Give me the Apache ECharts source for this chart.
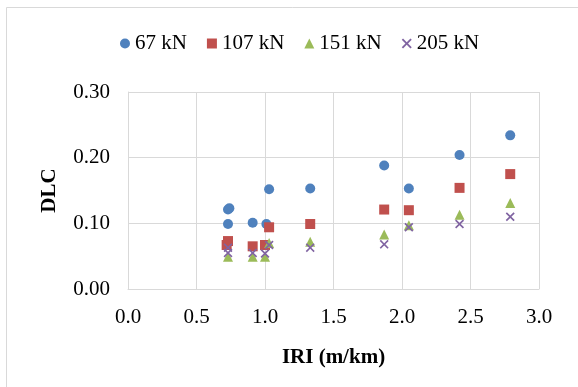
<!DOCTYPE html>
<html>
<head>
<meta charset="utf-8">
<script src="https://cdn.jsdelivr.net/npm/echarts@6/dist/echarts.min.js"></script>
<style>html,body{margin:0;padding:0;background:#fff}#c{width:578px;height:387px}</style>
</head>
<body>
<div id="c"></div>
<script>
var seriesNames = ['67 kN', '107 kN', '151 kN', '205 kN'];
var xTicks = ['0.0','0.5','1.0','1.5','2.0','2.5','3.0'];
var yTicks = ['0.00','0.10','0.20','0.30'];
var iri67 = [0.73, 0.74, 0.73, 0.91, 1.01, 1.03, 1.33, 1.87, 2.05, 2.42, 2.79];
var dlc67 = [0.121, 0.123, 0.099, 0.101, 0.099, 0.152, 0.153, 0.188, 0.153, 0.204, 0.234];
var iri107 = [0.73, 0.72, 0.91, 1.00, 1.03, 1.33, 1.87, 2.05, 2.42, 2.79];
var dlc107 = [0.073, 0.067, 0.065, 0.067, 0.094, 0.099, 0.121, 0.120, 0.154, 0.175];
var iri151 = [0.73, 0.91, 1.00, 1.03, 1.33, 1.87, 2.05, 2.42, 2.79];
var dlc151 = [0.049, 0.049, 0.049, 0.070, 0.072, 0.083, 0.097, 0.113, 0.131];
var iri205 = [0.73, 0.73, 0.91, 1.00, 1.03, 1.33, 1.87, 2.05, 2.42, 2.79];
var dlc205 = [0.063, 0.055, 0.055, 0.054, 0.067, 0.063, 0.068, 0.094, 0.099, 0.110];

function pairs(xs, ys){ return xs.map(function(x,i){ return [x, ys[i]]; }); }
var FONT = '"Liberation Serif", "Times New Roman", serif';
var FS = 21;
var colors = ['#4F81BD', '#C0504D', '#9BBB59', '#8064A2'];
var xPath = 'path://M0,1.3 L1.3,0 L5,3.7 L8.7,0 L10,1.3 L6.3,5 L10,8.7 L8.7,10 L5,6.3 L1.3,10 L0,8.7 L3.7,5 Z';
var symbols = ['circle', 'rect', 'triangle', xPath];
var sizes = [10, 10, 10, 9];
var data = [pairs(iri67, dlc67), pairs(iri107, dlc107), pairs(iri151, dlc151), pairs(iri205, dlc205)];

var chart = echarts.init(document.getElementById('c'), null, {renderer: 'canvas'});
var gridColor = '#D9D9D9';
chart.setOption({
  animation: false,
  backgroundColor: '#fff',
  color: colors,
  graphic: [{
    type: 'rect', shape: {x: 6.5, y: 7.5, width: 620, height: 420},
    style: {fill: 'none', stroke: gridColor, lineWidth: 1}, silent: true, z: -1
  }],
  legend: {
    top: 28, left: 115,
    itemWidth: 10, itemHeight: 10, itemGap: 20, itemTextGap: 6,
    textStyle: {fontFamily: FONT, fontSize: FS, color: '#000'},
    data: seriesNames.map(function(n, i){ return {name: n, icon: symbols[i]}; })
  },
  grid: {left: 128, right: 39, top: 92, bottom: 98},
  xAxis: {
    type: 'value', min: 0, max: 3, interval: 0.5,
    name: 'IRI (m/km)', nameLocation: 'middle', nameGap: 58,
    nameTextStyle: {fontFamily: FONT, fontSize: FS, fontWeight: 'bold', color: '#000'},
    axisLine: {show: true, lineStyle: {color: gridColor, width: 1}},
    axisTick: {show: false},
    axisLabel: {fontFamily: FONT, fontSize: FS, color: '#000', margin: 18,
      formatter: function(v){ return xTicks[Math.round(v / 0.5)]; }},
    splitLine: {show: true, lineStyle: {color: gridColor, width: 1}}
  },
  yAxis: {
    type: 'value', min: 0, max: 0.3, interval: 0.1,
    name: 'DLC', nameLocation: 'middle', nameGap: 68,
    nameTextStyle: {fontFamily: FONT, fontSize: FS, fontWeight: 'bold', color: '#000'},
    axisLine: {show: true, lineStyle: {color: gridColor, width: 1}},
    axisTick: {show: false},
    axisLabel: {fontFamily: FONT, fontSize: FS, color: '#000', margin: 18,
      formatter: function(v){ return yTicks[Math.round(v / 0.1)]; }},
    splitLine: {show: true, lineStyle: {color: gridColor, width: 1}}
  },
  series: seriesNames.map(function(n, i){
    return {
      name: n, type: 'scatter', symbol: symbols[i], symbolSize: sizes[i],
      itemStyle: {color: colors[i], opacity: 1},
      data: data[i]
    };
  })
});
</script>
</body>
</html>
